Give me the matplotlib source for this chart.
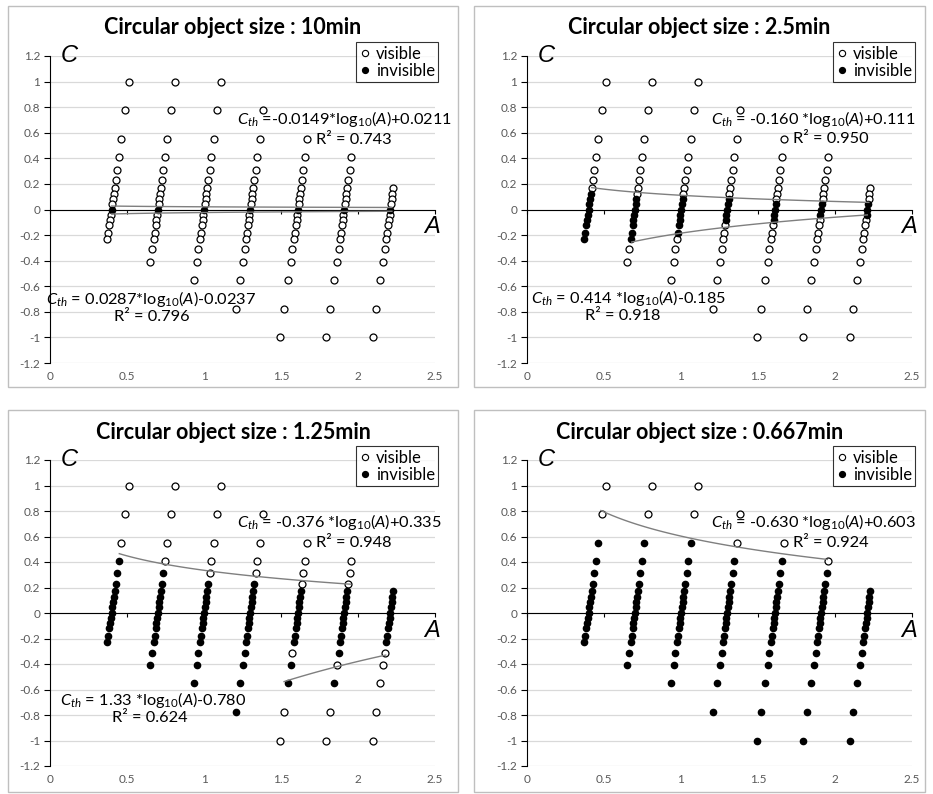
import numpy as np
import matplotlib
matplotlib.use('Agg')
from matplotlib import pyplot as plt
from matplotlib.patches import Rectangle
from matplotlib.lines import Line2D

plt.rcParams['font.family'] = ['Lato', 'DejaVu Sans']
plt.rcParams['mathtext.fontset'] = 'custom'
plt.rcParams['mathtext.rm'] = 'Lato'
plt.rcParams['mathtext.it'] = 'Lato:italic'
plt.rcParams['mathtext.bf'] = 'Lato:bold'

# =============================================================================
# Data
# =============================================================================
# contrast levels shown (same set for every panel)
levels = [1.0, 0.78, 0.55, 0.41, 0.31, 0.23, 0.17, 0.125, 0.085, 0.045, 0.0,
          -0.04, -0.08, -0.12, -0.18, -0.23, -0.31, -0.41, -0.55, -0.78, -1.0]
# small horizontal offset of each level inside a column
level_shift = [0.11, 0.085, 0.062, 0.047, 0.036, 0.027, 0.02, 0.014, 0.01, 0.005, 0.0,
               -0.005, -0.009, -0.014, -0.021, -0.027, -0.036, -0.048, -0.064, -0.09, -0.115]
# columns (A at C = 0) and the range of levels in each one
col_A = [0.40, 0.70, 1.00, 1.30, 1.61, 1.91, 2.21]
col_top = [1.0, 1.0, 1.0, 0.78, 0.55, 0.41, 0.17]
col_bottom = [-0.23, -0.41, -0.55, -0.78, -1.0, -1.0, -1.0]

titles = ['Circular object size : 10min', 'Circular object size : 2.5min',
          'Circular object size : 1.25min', 'Circular object size : 0.667min']

# invisible ranges (high, low) per column, per panel
invisible = [
    [[(0.0, 0.0)]] * 7,
    [[(0.125, -0.23)], [(0.085, -0.23)], [(0.085, -0.18)], [(0.085, -0.08)],
     [(0.045, -0.08)], [(0.045, -0.04)], [(0.045, -0.04)]],
    [[(0.41, -0.23)], [(0.31, -0.41)], [(0.23, -0.55)], [(0.23, -0.78)],
     [(0.17, -0.23), (-0.41, -0.55)], [(0.17, -0.31), (-0.55, -0.55)], [(0.17, -0.23)]],
    [[(0.55, -0.23)], [(0.55, -0.41)], [(0.55, -0.55)], [(0.41, -0.78)],
     [(0.41, -1.0)], [(0.31, -1.0)], [(0.17, -1.0)]],
]

# log trend lines: (slope, intercept, x from, x to)
trends = [
    [(-0.0149, 0.0211, 0.40, 2.22), (0.0287, -0.0237, 0.40, 2.22)],
    [(-0.160, 0.111, 0.42, 2.22), (0.414, -0.185, 0.68, 2.21)],
    [(-0.376, 0.335, 0.45, 1.95), (1.33, -0.780, 1.52, 2.18)],
    [(-0.630, 0.603, 0.48, 1.95)],
]

# equation labels: (equation, R2 text, eq x, eq y, R2 x, R2 y)
labels = [
    [(r'$C_{th}$ =-0.0149*log$_{10}$($A$)+0.0211', 'R² = 0.743', 1.91, 0.71, 1.97, 0.54),
     (r'$C_{th}$ = 0.0287*log$_{10}$($A$)-0.0237', 'R² = 0.796', 0.66, -0.70, 0.66, -0.84)],
    [(r'$C_{th}$ = -0.160 *log$_{10}$($A$)+0.111', 'R² = 0.950', 1.86, 0.71, 1.97, 0.55),
     (r'$C_{th}$ = 0.414 *log$_{10}$($A$)-0.185', 'R² = 0.918', 0.66, -0.69, 0.62, -0.83)],
    [(r'$C_{th}$ = -0.376 *log$_{10}$($A$)+0.335', 'R² = 0.948', 1.88, 0.71, 1.97, 0.55),
     (r'$C_{th}$ = 1.33 *log$_{10}$($A$)-0.780', 'R² = 0.624', 0.67, -0.68, 0.65, -0.82)],
    [(r'$C_{th}$ = -0.630 *log$_{10}$($A$)+0.603', 'R² = 0.924', 1.86, 0.71, 1.97, 0.55)],
]

# =============================================================================
# Layout
# =============================================================================
W, H = 933, 794
fig = plt.figure(figsize=(W / 100, H / 100), dpi=100)

axes_px = [(50, 56, 435, 363), (527, 56, 912, 363),
           (50, 460, 435, 766), (527, 460, 912, 766)]
frames_px = [(8, 6, 458, 387), (474, 6, 925, 387),
             (8, 410, 458, 792), (474, 410, 925, 792)]

tick_color = '#595959'
xticks = [0, 0.5, 1, 1.5, 2, 2.5]
yticks = [round(v, 1) for v in np.arange(-1.2, 1.21, 0.2)]


def fmt(v):
    v = round(v, 1) + 0.0
    return '%g' % v


for p in range(4):
    fx0, fy0, fx1, fy1 = frames_px[p]
    fig.patches.append(Rectangle((fx0 / W, 1 - fy1 / H), (fx1 - fx0) / W, (fy1 - fy0) / H,
                                 transform=fig.transFigure, fill=False,
                                 edgecolor='#bfbfbf', lw=1))
    fig.text((fx0 + fx1) / 2 / W, 1 - (fy0 + 22) / H, titles[p], ha='center', va='center',
             fontsize=15.5, fontweight='bold')

    x0, y0, x1, y1 = axes_px[p]
    ax = fig.add_axes([x0 / W, 1 - y1 / H, (x1 - x0) / W, (y1 - y0) / H])
    ax.set_xlim(0, 2.5)
    ax.set_ylim(-1.2, 1.2)
    ax.spines['top'].set_visible(False)
    ax.spines['right'].set_visible(False)
    ax.spines['bottom'].set_position(('data', 0))
    ax.spines['bottom'].set_color('black')
    ax.spines['left'].set_color('black')
    ax.set_xticks(xticks)
    ax.tick_params(axis='x', direction='out', length=3, labelbottom=False, color='black')
    ax.set_yticks(yticks)
    ax.set_yticklabels([fmt(v) for v in yticks])
    ax.tick_params(axis='y', direction='out', length=4, labelsize=8.5, labelcolor=tick_color,
                   color='black', pad=3)
    ax.yaxis.grid(True, color='#d9d9d9', lw=0.9)
    ax.set_axisbelow(True)

    sec = ax.secondary_xaxis(0)
    sec.set_xticks(xticks)
    sec.set_xticklabels([fmt(v) for v in xticks])
    sec.spines['bottom'].set_visible(False)
    sec.tick_params(length=0, labelsize=8.5, labelcolor=tick_color, pad=6)

    # points
    vis_x, vis_y, inv_x, inv_y = [], [], [], []
    for i in range(7):
        for j, c in enumerate(levels):
            if c > col_top[i] + 1e-6 or c < col_bottom[i] - 1e-6:
                continue
            x = col_A[i] + level_shift[j]
            hidden = any(lo - 1e-6 <= c <= hi + 1e-6 for hi, lo in invisible[p][i])
            if hidden:
                inv_x.append(x)
                inv_y.append(c)
            else:
                vis_x.append(x)
                vis_y.append(c)
    ax.plot(vis_x, vis_y, 'o', ls='', mfc='white', mec='black', mew=0.9, ms=5, zorder=3)
    ax.plot(inv_x, inv_y, 'o', ls='', mfc='black', mec='black', ms=4.5, zorder=4)

    # trend lines
    for a, b, xa, xb in trends[p]:
        xs = np.linspace(xa, xb, 100)
        ax.plot(xs, a * np.log10(xs) + b, color='#7f7f7f', lw=1, zorder=5)

    for eq, r2, ex, ey, rx, ry in labels[p]:
        ax.text(ex, ey, eq, ha='center', va='center', fontsize=11.8, zorder=6, clip_on=False)
        ax.text(rx, ry, r2, ha='center', va='center', fontsize=11.8, zorder=6, clip_on=False)

    ax.text(0.07, 1.2, 'C', ha='left', va='center', fontsize=17, style='italic',
            family='Liberation Sans')
    ax.text(2.48, -0.135, 'A', ha='center', va='center', fontsize=17, style='italic',
            family='Liberation Sans')

    handles = [Line2D([], [], marker='o', ls='', mfc='white', mec='black', mew=0.8, ms=4.5),
               Line2D([], [], marker='o', ls='', mfc='black', mec='black', ms=4.2)]
    leg = ax.legend(handles, ['visible', 'invisible'], loc='upper right',
                    bbox_to_anchor=(1.008, 1.045), fontsize=12, frameon=True,
                    fancybox=False, handlelength=0.6, handletextpad=0.35,
                    borderpad=0.2, labelspacing=0.08, borderaxespad=0)
    leg.get_frame().set_edgecolor('black')
    leg.get_frame().set_linewidth(0.8)

plt.savefig('out.png', dpi=100)
